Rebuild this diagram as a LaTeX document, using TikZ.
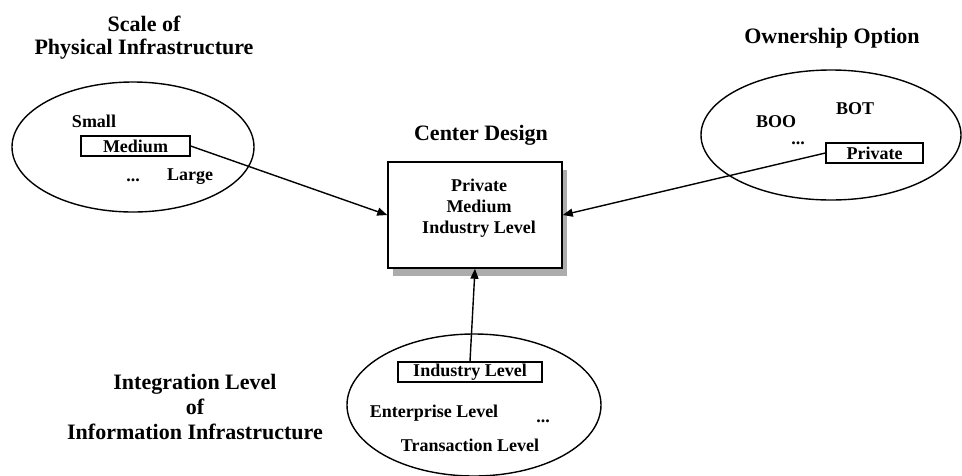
\documentclass[tikz,border=0pt]{standalone}
\usepackage{fontspec}
\setmainfont{Liberation Serif}
\usetikzlibrary{arrows.meta,shapes.geometric,shadows}
\begin{document}
\begin{tikzpicture}[x=1pt,y=-1pt,
  title/.style={font=\fontsize{22}{25}\selectfont\bfseries, align=center, inner sep=0pt},
  item/.style={font=\fontsize{18}{21}\selectfont\bfseries, inner sep=0pt},
  optbox/.style={draw, line width=1.3pt, inner sep=0pt, font=\fontsize{18}{21}\selectfont\bfseries},
  conn/.style={line width=1.4pt, -{Triangle[length=10pt,width=8pt]}}]
\useasboundingbox (0,0) rectangle (962,475);
% ellipses
\draw[line width=1.4pt] (133,147) ellipse [x radius=121, y radius=65];
\draw[line width=1.4pt] (831,135) ellipse [x radius=130, y radius=65];
\draw[line width=1.4pt] (474,405) ellipse [x radius=127, y radius=71];
% titles
\node[title, font=\fontsize{22}{23}\selectfont\bfseries] (t1) at (144,38) {Scale of\\Physical Infrastructure};
\node[title] (t2) at (832,38) {Ownership Option};
\node[title] (t3) at (481,135) {Center Design};
\node[title] (t4) at (195,407) {Integration Level\\of\\Information Infrastructure};
% center box
\fill[gray!65] (393,170) rectangle (567,276);
\node[draw, fill=white, line width=1.5pt, minimum width=174pt, minimum height=106pt, inner sep=0pt] (design) at (475,215) {};
\node[item, align=center] (dtext) at (479,208) {Private\\Medium\\Industry Level};
% left items
\node[item] (small) at (94,121) {Small};
\node[optbox, minimum width=109pt, minimum height=20pt] (medium) at (135.5,146) {Medium};
\node[item] (ldots) at (133,180) {...};
\node[item] (large) at (190,177) {Large};
% right items
\node[item] (bot) at (855,109) {BOT};
\node[item] (boo) at (776,122) {BOO};
\node[item] (rdots) at (798,143) {...};
\node[optbox, minimum width=97pt, minimum height=20pt] (private) at (874.5,153) {Private};
% bottom items
\node[optbox, minimum width=144pt, minimum height=20pt] (industry) at (470,372) {Industry Level};
\node[item] (enterprise) at (434,413) {Enterprise Level};
\node[item] (bdots) at (543,421) {...};
\node[item] (transaction) at (470,445) {Transaction Level};
% connectors
\draw[conn] (medium.east) -- (design.west);
\draw[conn] (private.west) -- (design.east);
\draw[conn] (industry.north) -- (design.south);
\end{tikzpicture}
\end{document}
